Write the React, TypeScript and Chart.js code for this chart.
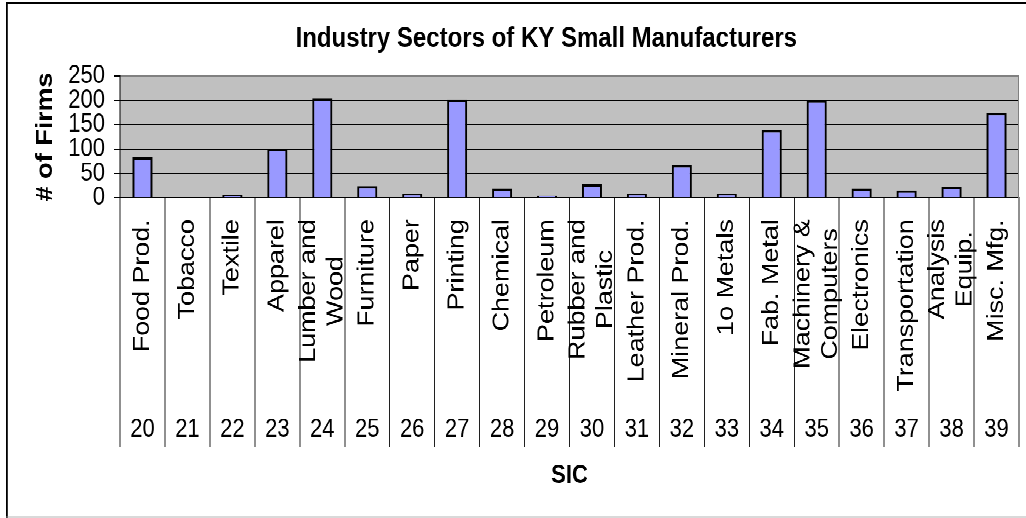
import React, { useEffect, useRef } from 'react';
import { Chart, registerables } from 'chart.js';

Chart.register(...registerables);

// ---------- data ----------
const chartTitle = 'Industry Sectors of KY Small Manufacturers';
const yAxisTitle = '# of Firms';
const xAxisTitle = 'SIC';

const sectorNames: string[][] = [
  ['Food Prod.'],
  ['Tobacco'],
  ['Textile'],
  ['Apparel'],
  ['Lumber and', 'Wood'],
  ['Furniture'],
  ['Paper'],
  ['Printing'],
  ['Chemical'],
  ['Petroleum'],
  ['Rubber and', 'Plastic'],
  ['Leather Prod.'],
  ['Mineral Prod.'],
  ['1o Metals'],
  ['Fab. Metal'],
  ['Machinery &', 'Computers'],
  ['Electronics'],
  ['Transportation'],
  ['Analysis', 'Equip.'],
  ['Misc. Mfg.'],
];

const sicCodes = [
  '20', '21', '22', '23', '24', '25', '26', '27', '28', '29',
  '30', '31', '32', '33', '34', '35', '36', '37', '38', '39',
];

const firmCounts = [83, 0, 5, 100, 204, 24, 8, 201, 19, 4, 28, 8, 67, 8, 139, 200, 19, 15, 23, 174];

const yMin = 0;
const yMax = 250;
const yStep = 50;

// ---------- layout (drawn at H px, stretched vertically to 518) ----------
const W = 1026;
const H = 443;
const STRETCH = 518 / H;
const FONT = "'Liberation Sans', Arial, Helvetica, sans-serif";

const PLOT_TOP = 65;
const PLOT_BOTTOM = 169.1;
const NAMES_H = 180.9;
const SIC_H = 70.3;
const PAD_BOTTOM = H - (PLOT_BOTTOM + NAMES_H + SIC_H);

const framePlugin = {
  id: 'frame',
  beforeDraw(chart: any) {
    const { ctx, chartArea } = chart;
    ctx.save();
    // outer chart border (left & top black, bottom gray)
    ctx.fillStyle = '#000000';
    ctx.fillRect(6, 1.7, W - 6, 1.8);
    ctx.fillRect(6, 1.7, 1.8, H);
    ctx.fillStyle = '#a0a0a0';
    ctx.fillRect(6, 441.8, W - 6, 0.9);
    // plot area
    ctx.fillStyle = '#C0C0C0';
    ctx.fillRect(chartArea.left, chartArea.top, chartArea.right - chartArea.left, chartArea.bottom - chartArea.top);
    ctx.restore();
  },
  beforeDatasetsDraw(chart: any) {
    const { ctx, chartArea } = chart;
    ctx.save();
    ctx.strokeStyle = '#808080';
    ctx.lineWidth = 1;
    const x = Math.round(chartArea.right) - 0.5;
    ctx.beginPath();
    ctx.moveTo(x, chartArea.top);
    ctx.lineTo(x, chartArea.bottom);
    ctx.stroke();
    ctx.restore();
  },
  afterDraw(chart: any) {
    const { ctx } = chart;
    const xs = chart.scales.x;
    ctx.save();
    // chart title
    ctx.fillStyle = '#000000';
    ctx.font = `bold 24px ${FONT}`;
    ctx.textAlign = 'center';
    ctx.textBaseline = 'alphabetic';
    ctx.fillText(chartTitle, 546.3, 39.9);

    // sector names (rotated, block top-aligned, lines centred)
    const size = 23;
    const lh = size * 1.2;
    ctx.font = `${size}px ${FONT}`;
    ctx.textAlign = 'center';
    ctx.textBaseline = 'middle';
    const top = xs.top + 18.4;
    (chart.data.labels as string[][]).forEach((lines, i) => {
      const x = xs.getPixelForValue(i);
      const w = Math.max(...lines.map((l) => ctx.measureText(l).width));
      ctx.save();
      ctx.translate(x, top);
      ctx.rotate(-Math.PI / 2);
      lines.forEach((line, j) => {
        ctx.fillText(line, -w / 2, (j - (lines.length - 1) / 2) * lh);
      });
      ctx.restore();
    });
    ctx.restore();
  },
};

export default function App() {
  const canvasRef = useRef<HTMLCanvasElement | null>(null);

  useEffect(() => {
    const canvas = canvasRef.current;
    if (!canvas) return;
    const chart = new Chart(canvas, {
      type: 'bar',
      data: {
        labels: sectorNames as any,
        datasets: [
          {
            data: firmCounts,
            backgroundColor: '#9999FF',
            borderColor: '#000000',
            borderWidth: 2,
            barPercentage: 0.445,
            categoryPercentage: 1,
            xAxisID: 'x',
            yAxisID: 'y',
          },
        ],
      },
      options: {
        responsive: false,
        animation: false,
        devicePixelRatio: 2,
        layout: { padding: { top: PLOT_TOP, left: 6, right: 7, bottom: PAD_BOTTOM } },
        plugins: {
          legend: { display: false },
          title: { display: false },
          tooltip: { enabled: false },
        },
        scales: {
          x: {
            type: 'category',
            position: 'bottom',
            weight: 0,
            offset: true,
            ticks: { display: false },
            grid: {
              display: true,
              drawOnChartArea: false,
              drawTicks: true,
              tickLength: 213,
              color: '#202020',
              lineWidth: 1,
              offset: true,
            },
            border: { display: true, color: '#000000', width: 1 },
            afterFit: (s: any) => {
              s.height = NAMES_H;
            },
          },
          sic: {
            type: 'category',
            labels: sicCodes,
            position: 'bottom',
            weight: 1,
            offset: true,
            grid: { display: false, drawTicks: false, drawOnChartArea: false },
            border: { display: false },
            ticks: {
              font: { size: 22, family: FONT },
              color: '#000000',
              padding: 4.3,
              maxRotation: 0,
              minRotation: 0,
              autoSkip: false,
            },
            title: {
              display: true,
              text: xAxisTitle,
              color: '#000000',
              font: { size: 22, weight: 'bold', family: FONT },
              padding: { top: 0, bottom: 0 },
            },
            afterFit: (s: any) => {
              s.height = SIC_H;
            },
          },
          y: {
            type: 'linear',
            min: yMin,
            max: yMax,
            ticks: {
              stepSize: yStep,
              autoSkip: false,
              font: { size: 22, family: FONT },
              color: '#000000',
              padding: 9,
            },
            grid: {
              color: (c: any) => (c.tick && c.tick.value === yMax ? '#808080' : '#000000'),
              tickColor: '#000000',
              lineWidth: 1,
              drawTicks: true,
              tickLength: 6,
            },
            border: { display: true, color: '#000000', width: 1 },
            title: {
              display: true,
              text: yAxisTitle,
              color: '#000000',
              font: { size: 23, weight: 'bold', family: FONT },
              padding: { top: 25.7, bottom: 0 },
            },
            afterFit: (s: any) => {
              s.width = 114;
            },
          },
        },
      } as any,
      plugins: [framePlugin],
    });
    return () => {
      chart.destroy();
    };
  }, []);

  return (
    <div
      style={{
        position: 'absolute',
        left: 0,
        top: 0,
        width: W,
        height: H,
        transform: `scaleY(${STRETCH})`,
        transformOrigin: '0 0',
        background: '#ffffff',
      }}
    >
      <canvas
        ref={canvasRef}
        width={W}
        height={H}
        style={{ display: 'block', width: `${W}px`, height: `${H}px` }}
      />
    </div>
  );
}
